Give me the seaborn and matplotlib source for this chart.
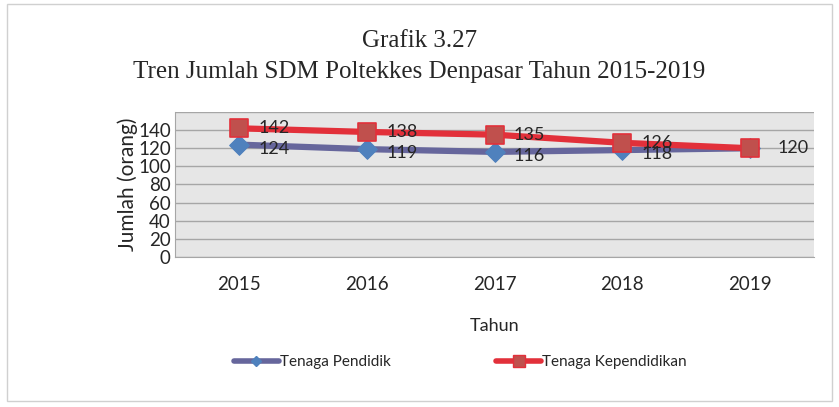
import numpy as np
import pandas as pd
import seaborn as sns
import matplotlib.pyplot as plt
from matplotlib.lines import Line2D
from matplotlib.patches import Rectangle

years = ["2015", "2016", "2017", "2018", "2019"]
pendidik = [124, 119, 116, 118, 120]
kependidikan = [142, 138, 135, 126, 120]

df = pd.DataFrame({
    "x": list(range(len(years))) * 2,
    "Jumlah": pendidik + kependidikan,
    "seri": ["Tenaga Pendidik"] * 5 + ["Tenaga Kependidikan"] * 5,
})

sns.set_style("white")
plt.rcParams["font.family"] = ["Lato", "DejaVu Sans"]

fig = plt.figure(figsize=(8.39, 4.07), dpi=100)
fig.patches.append(Rectangle((0.008, 0.015), 0.984, 0.975, transform=fig.transFigure,
                             fill=False, edgecolor="#d0d0d0", linewidth=1))
ax = fig.add_axes([0.2086, 0.3686, 0.7616, 0.3562])
ax.set_facecolor("#e6e6e6")

line_col = {"Tenaga Pendidik": "#66669c", "Tenaga Kependidikan": "#e2303a"}
sns.lineplot(data=df, x="x", y="Jumlah", hue="seri", palette=line_col,
             linewidth=4.5, ax=ax, legend=False, zorder=3)
sub = df[df.seri == "Tenaga Pendidik"]
sns.scatterplot(data=sub, x="x", y="Jumlah", marker="D", s=100, color="#4f81bd",
                edgecolor="#4f81bd", ax=ax, legend=False, zorder=4)
sub = df[df.seri == "Tenaga Kependidikan"]
sns.scatterplot(data=sub, x="x", y="Jumlah", marker="s", s=150, color="#c0504d",
                edgecolor="#e2303a", linewidth=1.2, ax=ax, legend=False, zorder=5)

for i, v in enumerate(pendidik):
    if i < 4:
        ax.annotate(str(v), (i, v), xytext=(14, -3), textcoords="offset points",
                    va="center", ha="left", fontsize=13, zorder=6)
for i, v in enumerate(kependidikan):
    ax.annotate(str(v), (i, v), xytext=(14 if i < 4 else 20, 0), textcoords="offset points",
                va="center", ha="left", fontsize=13, zorder=6)

ax.set_xlim(-0.5, 4.5)
ax.set_ylim(0, 160)
ax.set_yticks(np.arange(0, 141, 20))
ax.set_xticks(range(len(years)))
ax.set_xticklabels(years)
ax.yaxis.grid(True, color="#a6a6a6", linewidth=1)
ax.axhline(160, color="#a6a6a6", linewidth=1)
ax.set_axisbelow(True)
for s in ["top", "right"]:
    ax.spines[s].set_visible(False)
for s in ["left", "bottom"]:
    ax.spines[s].set_color("#a6a6a6")
ax.tick_params(axis="both", length=0, labelsize=13.5, pad=3)
ax.tick_params(axis="x", pad=14)
ax.set_xlabel("Tahun", fontsize=13, labelpad=18)
ax.set_ylabel("Jumlah (orang)", fontsize=15, labelpad=0)

fig.text(0.5, 0.9, "Grafik 3.27", ha="center", va="center", fontsize=18,
         family="Liberation Serif")
fig.text(0.5, 0.823, "Tren Jumlah SDM Poltekkes Denpasar Tahun 2015-2019", ha="center",
         va="center", fontsize=18, family="Liberation Serif")

handles = [
    Line2D([], [], color="#66669c", linewidth=4, marker="D", markersize=5,
           markerfacecolor="#4f81bd", markeredgecolor="#4f81bd"),
    Line2D([], [], color="#e2303a", linewidth=4, marker="s", markersize=8,
           markerfacecolor="#c0504d", markeredgecolor="#e2303a"),
]
fig.legend(handles, ["Tenaga Pendidik", "Tenaga Kependidikan"], loc="center",
           bbox_to_anchor=(0.549, 0.11), ncol=2, frameon=False, fontsize=11,
           handlelength=2.9, handletextpad=0.1, columnspacing=6.9)

fig.savefig("out.png", dpi=100)
